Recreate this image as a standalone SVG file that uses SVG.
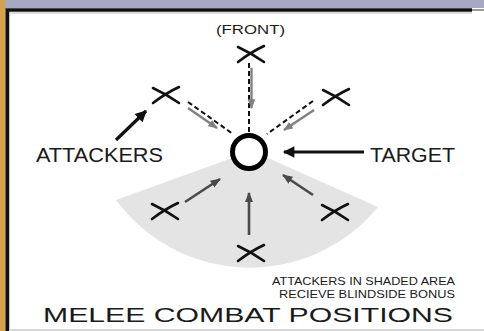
<svg xmlns="http://www.w3.org/2000/svg" width="484" height="331" viewBox="0 0 484 331">
<defs>
<style>
.x{fill:none;stroke:#111;stroke-width:2.6;stroke-linecap:round}
.dash{fill:none;stroke:#111;stroke-width:2;stroke-dasharray:5 3}
.ga{fill:none;stroke:#808080;stroke-width:2.4;marker-end:url(#gh)}
.da{fill:none;stroke:#4a4a4a;stroke-width:2.6;marker-end:url(#dh)}
.ba{fill:none;stroke:#111;stroke-width:3.2;marker-end:url(#bh)}
.t{font-family:"Liberation Sans",Arial,sans-serif;fill:#1a1a1a}
</style>
<marker id="gh" viewBox="0 0 10 10" refX="9" refY="5" markerWidth="4" markerHeight="4" orient="auto" markerUnits="strokeWidth"><path d="M0,1 L10,5 L0,9 Z" fill="#808080"/></marker>
<marker id="dh" viewBox="0 0 10 10" refX="9" refY="5" markerWidth="4" markerHeight="4" orient="auto" markerUnits="strokeWidth"><path d="M0,1 L10,5 L0,9 Z" fill="#4a4a4a"/></marker>
<marker id="bh" viewBox="0 0 10 10" refX="9" refY="5" markerWidth="4" markerHeight="3.6" orient="auto" markerUnits="strokeWidth"><path d="M0,0 L10,5 L0,10 Z" fill="#111"/></marker>
<path id="xs" d="M-13,-7 Q0,-1 13,8 M-13,8 Q0,-2 13,-8"/>
</defs>
<!-- frame -->
<rect x="0" y="0" width="484" height="331" fill="#fff"/>
<rect x="0" y="0" width="484" height="8" fill="#a9a8c2"/>
<rect x="0" y="0" width="5" height="331" fill="#d4a24a"/>
<rect x="5" y="8" width="1" height="323" fill="#8a8a8a"/>
<path d="M7.5,331 V10 H472" fill="none" stroke="#111" stroke-width="3.5"/>
<path d="M472,10 H484" stroke="#9a9a9a" stroke-width="2"/>
<path d="M10,13 H472" stroke="#bbb" stroke-width="1"/>
<rect x="9" y="329" width="475" height="2" fill="#d8d8d8"/>

<!-- shaded blindside area -->
<g id="shade">
<path d="M232,158 L116,200 A166,166 0 0 0 378,207 L268,158 Z" fill="#e4e4e4"/>
</g>

<g id="connectors">
<path class="dash" d="M249,63 V134"/>
<path class="ga" d="M251.5,68 V108"/>
<path class="dash" d="M188,102 L233,134"/>
<path class="ga" d="M188,108 L217,128"/>
<path class="dash" d="M313,101 L267,134"/>
<path class="ga" d="M314,110 L284,130"/>
<path class="da" d="M185,202 L220,179"/>
<path class="da" d="M249,235 V193"/>
<path class="da" d="M313,195 L283,175"/>
<path class="ba" d="M116,140 L146,111"/>
<path class="ba" d="M364,152 H284"/>
</g>

<g id="front"><use href="#xs" class="x" x="251" y="54"/></g>
<g id="front-left"><use href="#xs" class="x" x="166" y="95"/></g>
<g id="front-right"><use href="#xs" class="x" x="336" y="97"/></g>
<g id="rear-left"><use href="#xs" class="x" x="165" y="211"/></g>
<g id="rear-right"><use href="#xs" class="x" x="335" y="212"/></g>
<g id="rear"><use href="#xs" class="x" x="251" y="253"/></g>
<g id="target"><circle cx="249" cy="152" r="16.5" fill="#fff" stroke="#000" stroke-width="5"/></g>

<g id="labels">
<text class="t" x="250.5" y="34" font-size="13" text-anchor="middle" textLength="69" lengthAdjust="spacingAndGlyphs">(FRONT)</text>
<text class="t" x="36" y="162" font-size="19.5" textLength="127" lengthAdjust="spacingAndGlyphs">ATTACKERS</text>
<text class="t" x="370" y="162" font-size="19.5" textLength="85" lengthAdjust="spacingAndGlyphs">TARGET</text>
<text class="t" x="272" y="285" font-size="11" textLength="183" lengthAdjust="spacingAndGlyphs">ATTACKERS IN SHADED AREA</text>
<text class="t" x="279" y="298" font-size="11" textLength="176" lengthAdjust="spacingAndGlyphs">RECIEVE BLINDSIDE BONUS</text>
<text class="t" x="43" y="322" font-size="21" textLength="410" lengthAdjust="spacingAndGlyphs">MELEE COMBAT POSITIONS</text>
</g>
</svg>
